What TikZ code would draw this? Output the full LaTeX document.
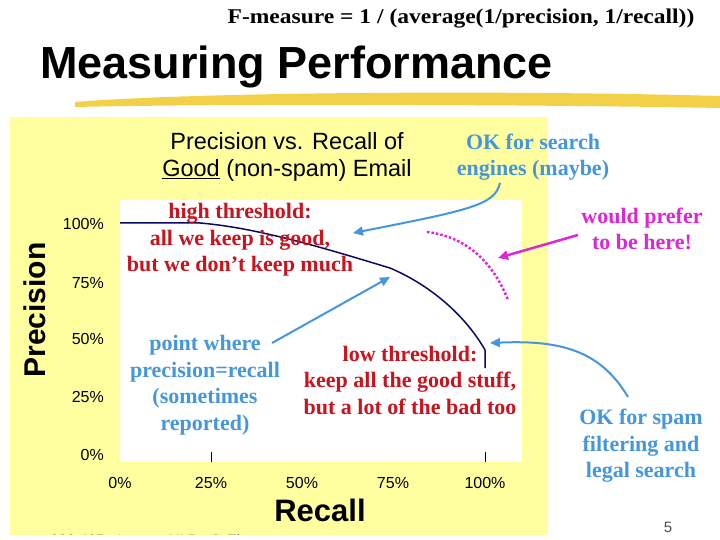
\documentclass[tikz,border=0pt]{standalone}
\usepackage{fontspec}
\setmainfont{Liberation Serif}
\setsansfont{Liberation Sans}
\usetikzlibrary{arrows.meta}
\definecolor{pyel}{RGB}{255,255,160}
\definecolor{hl}{RGB}{240,200,40}
\definecolor{nblue}{RGB}{70,150,220}
\definecolor{nred}{RGB}{200,20,30}
\definecolor{nmag}{RGB}{220,40,210}
\definecolor{curve}{RGB}{10,10,100}
\tikzset{
 note/.style={font=\bfseries\fontsize{22}{26.5}\selectfont,align=center,inner sep=0pt},
 tick/.style={font=\sffamily\fontsize{16}{18}\selectfont,inner sep=0pt},
 barrow/.style={nblue,line width=2pt,-{Triangle[length=10pt,width=9pt]}},
 marrow/.style={nmag,line width=2.5pt,-{Triangle[length=10pt,width=9pt]}}
}
\begin{document}
\begin{tikzpicture}[x=1pt,y=-1pt]
\useasboundingbox (0,0) rectangle (720,540);
\fill[white] (0,0) rectangle (720,540);
\node[inner sep=0pt,xscale=1.12,font=\bfseries\fontsize{21}{22}\selectfont] (formula) at (461,19) {F-measure = 1 / (average(1/precision, 1/recall))};
\node[inner sep=0pt,font=\sffamily\bfseries\fontsize{45}{48}\selectfont,anchor=west] (title) at (40,67) {Measuring Performance};
\fill[hl,opacity=0.85] (75,102) .. controls (200,92) and (500,90) .. (720,96) -- (720,108) .. controls (500,104) and (200,104) .. (75,107) -- cycle;
\fill[pyel] (10,117) rectangle (548,535);
\fill[white] (120,200) rectangle (522,462);
\node[inner sep=0pt,font=\sffamily\fontsize{23.5}{27}\selectfont,align=center] (head) at (287,157) {Precision vs. Recall of\\\underline{Good} (non-spam) Email};
\foreach \p/\y in {100\%/224,75\%/283,50\%/339,25\%/397,0\%/455} \node[tick,anchor=east] at (104,\y) {\p};
\foreach \p/\x in {0\%/120,25\%/211,50\%/302,75\%/393,100\%/485} \node[tick] at (\x,483) {\p};
\draw (211,452) -- (211,462) (485,452) -- (485,462);
\node[inner sep=0pt,rotate=90,font=\sffamily\bfseries\fontsize{30}{32}\selectfont] (ylab) at (35,310) {Precision};
\node[inner sep=0pt,font=\sffamily\bfseries\fontsize{31}{33}\selectfont] (xlab) at (320,510) {Recall};
\draw[curve,line width=1.5pt] (120,223) -- (200,223) .. controls (260,228) and (330,250) .. (390,268) .. controls (430,285) and (465,315) .. (485,350) -- (485,368);
\draw[nmag,line width=2.5pt,dotted] (427,232) .. controls (460,236) and (490,255) .. (508,300);
\node[note,text=nred] (high) at (240,240) {high threshold:\\all we keep is good,\\but we don’t keep much};
\node[note,text=nred] (low) at (410,380) {low threshold:\\keep all the good stuff,\\but a lot of the bad too};
\node[note,text=nblue] (pw) at (205,385) {point where\\precision=recall\\(sometimes\\reported)};
\node[note,text=nblue] (ok1) at (533,157) {OK for search\\engines (maybe)};
\node[note,text=nmag] (pref) at (642,229) {would prefer\\to be here!};
\node[note,text=nblue] (ok2) at (641,446) {OK for spam\\filtering and\\legal search};
\coordinate (t1) at (353,233);
\coordinate (t2) at (390,277);
\coordinate (t3) at (490,343);
\coordinate (t4) at (498,258);
\draw[barrow] (500,183) .. controls (495,205) and (470,210) .. (t1);
\draw[barrow] (272,343) -- (t2);
\draw[barrow] (628,397) .. controls (600,350) and (560,340) .. (t3);
\draw[marrow] (578,235) -- (t4);
\begin{scope}
\clip (0,0) rectangle (720,534);
\node[inner sep=0pt,anchor=west,font=\sffamily\fontsize{15}{16}\selectfont,text=black!70] (foot) at (50,540) {600.465 - Intro to NLP - J. Eisner};
\end{scope}
\node[inner sep=0pt,font=\sffamily\fontsize{15}{16}\selectfont,text=black!70] (pg) at (668,527) {5};
\end{tikzpicture}
\end{document}
